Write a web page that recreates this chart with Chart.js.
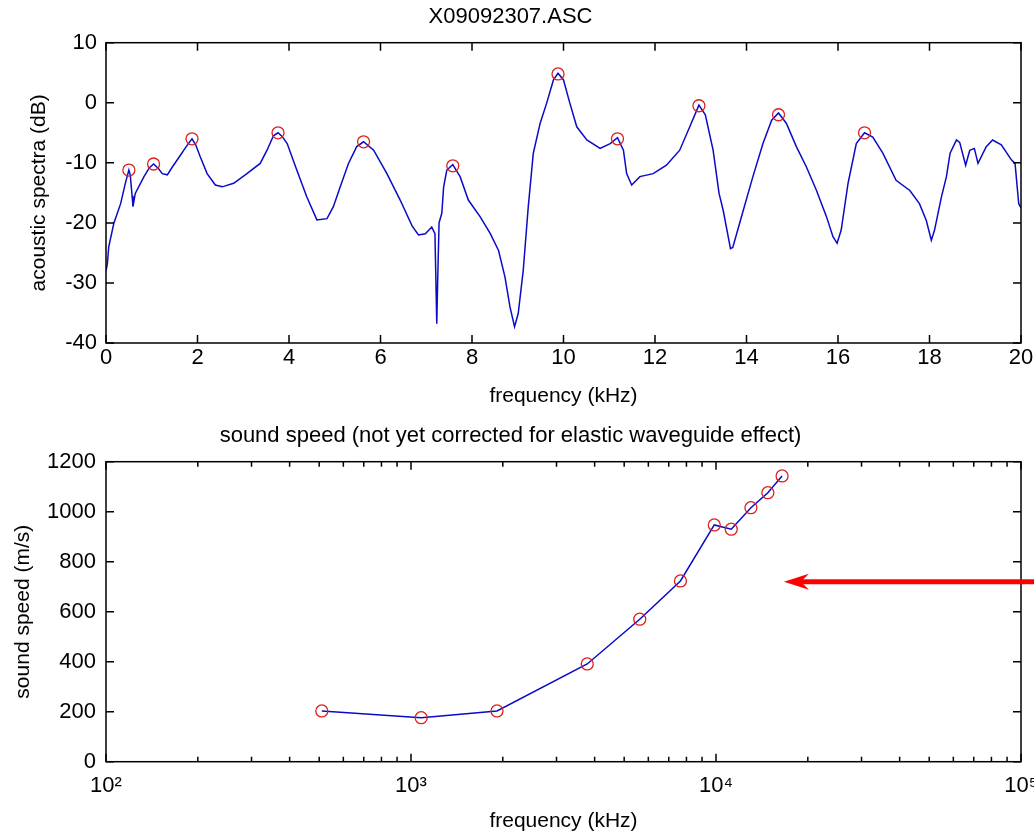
<!DOCTYPE html>
<html>
<head>
<meta charset="utf-8">
<title>X09092307.ASC</title>
<script src="https://cdn.jsdelivr.net/npm/chart.js@4.4.1/dist/chart.umd.min.js"></script>
<style>
  html, body { margin: 0; padding: 0; background: #fff; }
  #wrap { position: relative; width: 1034px; height: 835px; overflow: hidden; background: #fff; }
  #spectrum { position: absolute; left: 0; top: 0; }
  #speed { position: absolute; left: 0; top: 420px; }
</style>
</head>
<body>
<div id="wrap">
  <canvas id="spectrum" width="1034" height="420"></canvas>
  <canvas id="speed" width="1034" height="415"></canvas>
</div>
<script>
// acoustic spectrum (kHz, dB)
const specKhz = [0.00, 0.03, 0.06, 0.17, 0.32, 0.42, 0.50, 0.53, 0.57, 0.59, 0.64, 0.83, 0.95, 1.04, 1.15, 1.23, 1.34, 1.45, 1.63, 1.69,
  1.80, 1.88, 1.96, 2.06, 2.21, 2.39, 2.54, 2.79, 3.08, 3.37, 3.52, 3.66, 3.76, 3.85, 3.96, 4.17, 4.39, 4.61, 4.83, 4.97,
  5.12, 5.30, 5.48, 5.63, 5.85, 6.14, 6.43, 6.69, 6.83, 6.98, 7.12, 7.19, 7.23, 7.25, 7.28, 7.34, 7.38, 7.45, 7.58, 7.74,
  7.92, 8.18, 8.40, 8.58, 8.72, 8.83, 8.93, 9.01, 9.12, 9.23, 9.34, 9.49, 9.63, 9.78, 9.88, 10.00, 10.14, 10.29, 10.51, 10.80,
  11.02, 11.18, 11.31, 11.38, 11.49, 11.67, 11.96, 12.25, 12.54, 12.76, 12.96, 13.10, 13.27, 13.40, 13.49, 13.65, 13.70, 13.93, 14.14, 14.36,
  14.55, 14.70, 14.87, 15.09, 15.31, 15.53, 15.75, 15.89, 15.98, 16.07, 16.22, 16.40, 16.58, 16.76, 16.98, 17.27, 17.57, 17.78, 17.93, 18.04,
  18.11, 18.26, 18.37, 18.45, 18.59, 18.66, 18.79, 18.88, 18.98, 19.06, 19.24, 19.38, 19.57, 19.79, 19.87, 19.95, 20.00];
const specDb = [-28.0, -26.8, -24.0, -20.1, -16.8, -13.5, -11.2, -12.0, -15.5, -17.3, -15.1, -12.3, -10.8, -10.2, -11.0, -11.8, -12.0, -10.7, -8.7, -8.0,
  -6.8, -6.0, -7.0, -9.0, -11.8, -13.7, -14.0, -13.4, -11.8, -10.1, -7.9, -5.5, -5.0, -5.6, -6.8, -11.2, -15.7, -19.5, -19.3, -17.3,
  -14.0, -10.1, -7.3, -6.5, -7.9, -11.8, -16.2, -20.5, -22.0, -21.8, -20.7, -21.8, -36.8, -29.5, -20.0, -18.4, -14.0, -11.2, -10.3, -12.3,
  -16.2, -19.0, -21.8, -24.6, -29.0, -34.0, -37.3, -35.1, -27.9, -17.3, -8.4, -3.4, -0.1, 3.8, 4.9, 3.8, -0.1, -4.0, -6.2, -7.6,
  -6.8, -5.8, -7.9, -11.8, -13.7, -12.3, -11.8, -10.4, -7.9, -4.0, -0.4, -2.0, -7.9, -15.1, -17.9, -24.3, -24.1, -17.9, -12.3, -6.8,
  -2.9, -1.7, -3.4, -7.3, -10.7, -14.6, -19.0, -22.3, -23.4, -21.2, -13.4, -6.8, -5.0, -5.7, -8.4, -12.9, -14.6, -16.8, -19.6, -22.9,
  -21.2, -15.7, -12.3, -8.4, -6.2, -6.6, -10.4, -7.9, -7.6, -10.1, -7.3, -6.2, -7.0, -9.5, -10.1, -16.8, -17.5];

// picked peaks (red circles)
const peakKhz = [0.50, 1.04, 1.88, 3.76, 5.63, 7.58, 9.88, 11.18, 12.96, 14.70, 16.58];
const peakDb = [-11.2, -10.2, -6.0, -5.0, -6.5, -10.5, 4.8, -6.0, -0.5, -2.0, -5.0];

// sound speed at the peaks (log frequency axis)
const speedFreq = [510, 1080, 1914, 3783, 5623, 7646, 9872, 11220, 13014, 14791, 16469];
const speedVal = [203, 176, 203, 391, 570, 723, 947, 930, 1016, 1076, 1143];

const arrowTip = { x: 16700, y: 720 };

const FONT = "'Liberation Sans', Arial, Helvetica, sans-serif";
const BLUE = '#0a0ac8';
const RED = '#dd2020';
const sup = { 2: '\u00b2', 3: '\u00b3', 4: '\u2074', 5: '\u2075' };

function isDecade(v) {
    const e = Math.log10(v);
    return Math.abs(e - Math.round(e)) < 1e-9;
}

// matlab style box with inward ticks
const frameTicks = {
    id: 'frameTicks',
    afterDatasetsDraw(chart) {
        const { ctx, chartArea: a, scales } = chart;
        const logX = scales.x.type === 'logarithmic';
        ctx.save();
        ctx.strokeStyle = '#000';
        ctx.lineWidth = 1.5;
        ctx.beginPath();
        scales.x.ticks.forEach(t => {
            const px = scales.x.getPixelForValue(t.value);
            const len = (logX && !isDecade(t.value)) ? 5 : 8;
            ctx.moveTo(px, a.bottom); ctx.lineTo(px, a.bottom - len);
            ctx.moveTo(px, a.top); ctx.lineTo(px, a.top + len);
        });
        scales.y.ticks.forEach(t => {
            const py = scales.y.getPixelForValue(t.value);
            ctx.moveTo(a.left, py); ctx.lineTo(a.left + 8, py);
            ctx.moveTo(a.right, py); ctx.lineTo(a.right - 8, py);
        });
        ctx.stroke();
        ctx.strokeRect(a.left, a.top, a.right - a.left, a.bottom - a.top);
        ctx.restore();
    }
};

const redArrow = {
    id: 'redArrow',
    afterDraw(chart) {
        const { ctx, scales } = chart;
        const tx = scales.x.getPixelForValue(arrowTip.x);
        const ty = scales.y.getPixelForValue(arrowTip.y);
        ctx.save();
        ctx.strokeStyle = '#ff0000';
        ctx.fillStyle = '#ff0000';
        ctx.lineWidth = 5;
        ctx.beginPath();
        ctx.moveTo(tx + 16, ty);
        ctx.lineTo(chart.width, ty);
        ctx.stroke();
        ctx.beginPath();
        ctx.moveTo(tx, ty);
        ctx.lineTo(tx + 25, ty - 8);
        ctx.lineTo(tx + 17, ty);
        ctx.lineTo(tx + 25, ty + 8);
        ctx.closePath();
        ctx.fill();
        ctx.restore();
    }
};

function fixWidth(w) {
    return function(scale) {
        scale.width = w;
        scale.paddingTop = 0;
        scale.paddingBottom = 0;
    };
}
function fixHeight(h) {
    return function(scale) {
        scale.height = h;
        scale.paddingLeft = 0;
        scale.paddingRight = 0;
    };
}

Chart.defaults.font.family = FONT;
Chart.defaults.color = '#000';

const noGrid = { display: false, drawTicks: false, tickLength: 0 };

new Chart(document.getElementById('spectrum'), {
    type: 'scatter',
    data: {
        datasets: [{
            data: specKhz.map((f, i) => ({ x: f, y: specDb[i] })),
            showLine: true,
            borderColor: BLUE,
            borderWidth: 1.5,
            pointRadius: 0,
            order: 2
        }, {
            data: peakKhz.map((f, i) => ({ x: f, y: peakDb[i] })),
            pointStyle: 'circle',
            pointRadius: 6,
            pointBorderWidth: 1.3,
            pointBorderColor: RED,
            pointBackgroundColor: 'rgba(0,0,0,0)',
            order: 1
        }]
    },
    options: {
        responsive: false,
        animation: false,
        devicePixelRatio: 1,
        layout: { padding: { left: 0, right: 13, top: 0, bottom: 0 } },
        plugins: {
            legend: { display: false },
            tooltip: { enabled: false },
            title: {
                display: true,
                text: 'X09092307.ASC',
                font: { size: 22, weight: 'normal' },
                padding: { top: 4, bottom: 12.3 }
            }
        },
        scales: {
            x: {
                type: 'linear', min: 0, max: 20,
                grid: noGrid,
                border: { display: false },
                ticks: { stepSize: 2, padding: 2, maxRotation: 0, font: { size: 22 }, callback: v => String(v) },
                title: { display: true, text: 'frequency (kHz)', font: { size: 21 }, padding: { top: 0, bottom: 11 } },
                afterFit: fixHeight(77)
            },
            y: {
                min: -40, max: 10,
                grid: noGrid,
                border: { display: false },
                ticks: { stepSize: 10, padding: 9, font: { size: 22 }, callback: v => String(v) },
                title: { display: true, text: 'acoustic spectra (dB)', font: { size: 21 }, padding: { top: 27, bottom: 0 } },
                afterFit: fixWidth(106)
            }
        }
    },
    plugins: [frameTicks]
});

new Chart(document.getElementById('speed'), {
    type: 'scatter',
    data: {
        datasets: [{
            data: speedFreq.map((f, i) => ({ x: f, y: speedVal[i] })),
            showLine: true,
            borderColor: BLUE,
            borderWidth: 1.5,
            pointStyle: 'circle',
            pointRadius: 6,
            pointBorderWidth: 1.3,
            pointBorderColor: RED,
            pointBackgroundColor: 'rgba(0,0,0,0)'
        }]
    },
    options: {
        responsive: false,
        animation: false,
        devicePixelRatio: 1,
        layout: { padding: { left: 0, right: 13, top: 0, bottom: 0 } },
        plugins: {
            legend: { display: false },
            tooltip: { enabled: false },
            title: {
                display: true,
                text: 'sound speed (not yet corrected for elastic waveguide effect)',
                font: { size: 22, weight: 'normal' },
                padding: { top: 3, bottom: 12.3 }
            }
        },
        scales: {
            x: {
                type: 'logarithmic', min: 100, max: 100000,
                grid: noGrid,
                border: { display: false },
                afterBuildTicks(scale) {
                    const list = [];
                    for (let d = 2; d < 5; d++) {
                        for (let m = 1; m < 10; m++) list.push({ value: m * Math.pow(10, d) });
                    }
                    list.push({ value: 100000 });
                    scale.ticks = list;
                },
                ticks: {
                    autoSkip: false, maxRotation: 0, padding: 11, font: { size: 22 },
                    callback: v => isDecade(v) ? '10' + sup[Math.round(Math.log10(v))] : ''
                },
                title: { display: true, text: 'frequency (kHz)', font: { size: 21 }, padding: { top: 0, bottom: 1.5 } },
                afterFit: fixHeight(73.3)
            },
            y: {
                min: 0, max: 1200,
                grid: noGrid,
                border: { display: false },
                ticks: { stepSize: 200, padding: 10, font: { size: 22 }, callback: v => String(v) },
                title: { display: true, text: 'sound speed (m/s)', font: { size: 21 }, padding: { top: 11, bottom: 0 } },
                afterFit: fixWidth(106)
            }
        }
    },
    plugins: [frameTicks, redArrow]
});
</script>
</body>
</html>
